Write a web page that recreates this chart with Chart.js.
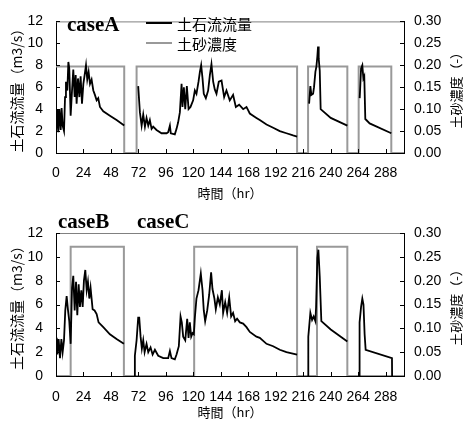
<!DOCTYPE html>
<html>
<head>
<meta charset="utf-8">
<script src="https://cdn.jsdelivr.net/npm/chart.js@4.4.0/dist/chart.umd.min.js"></script>
<style>
  body { margin: 0; background: #fff; width: 463px; height: 425px; overflow: hidden; }
  canvas { display: block; }
</style>
</head>
<body>
<canvas id="chartA" width="463" height="205"></canvas>
<canvas id="chartBC" width="463" height="220"></canvas>
<script>
// 軸目盛
const hourTicks = [0, 24, 48, 72, 96, 120, 144, 168, 192, 216, 240, 264, 288];
const flowTicks = [0, 2, 4, 6, 8, 10, 12];
const concTicks = [0, 0.05, 0.1, 0.15, 0.2, 0.25, 0.3];

// caseA 土石流流量 (null = 途切れ)
const timeA = [0, 0.6, 1.2, 2.0, 2.9, 4.1, 4.9, 5.8, 7.0, 7.9, 8.7, 9.9, 10.8, 11.6, 12.8, 14.0, 15.1, 16.3, 17.2, 18.0,
  19.2, 20.4, 21.5, 22.7, 23.9, 25.0, 26.2, 27.3, 28.5, 29.7, 31.1, 32.6, 34.0, 35.5, 36.9, 38.4, 41.3, 47.1, 52.9, 59.6,
  65,
  71.8, 73.3, 74.8, 76.2, 77.7, 79.1, 80.6, 82.0, 83.5, 84.9, 87.8, 92.2, 96.6, 98.0, 99.5, 100.3, 103.8, 105.3, 106.7, 108.2,
  109.7, 110.5, 111.7, 112.9, 114.3, 115.8, 117.5, 119.8, 121.3, 122.7, 124.5, 125.7, 126.8, 128.0, 129.1, 130.9, 132.9, 134.4, 135.8, 137.3,
  138.7, 140.2, 142.2, 144.6, 146.9, 148.9, 151.8, 154.7, 157.1, 160.0, 163.5, 166.4, 169.3, 175.1, 178.0, 183.9, 189.7, 195.5, 201.3, 207.1, 210.6,
  215,
  221.1, 222.2, 223.1, 224.6, 225.4, 226.6, 227.5, 228.3, 228.9, 229.5, 230.4, 231.2, 240.0, 254.5,
  260,
  265.3, 266.5, 267.6, 268.5, 269.3, 270.2, 274.0, 292.9];
const flowA = [1.8, 1.8, 4.0, 1.9, 4.0, 2.1, 4.1, 2.5, 2.0, 5.1, 6.5, 5.7, 8.3, 7.7, 3.4, 5.7, 7.6, 5.1, 7.1, 4.5,
  6.8, 5.1, 7.0, 4.5, 6.3, 7.1, 8.0, 6.7, 7.4, 6.3, 6.7, 5.7, 5.3, 4.8, 5.0, 4.2, 3.8, 3.4, 3.0, 2.5,
  null,
  6.1, 3.7, 2.5, 3.5, 2.4, 3.2, 2.5, 3.0, 2.2, 2.4, 2.1, 1.8, 1.8, 1.9, 2.5, 1.8, 1.7, 2.2, 2.8, 3.7,
  6.3, 4.2, 6.0, 4.0, 6.1, 4.0, 4.2, 4.8, 5.7, 5.4, 6.5, 7.4, 8.0, 6.8, 5.4, 5.0, 5.7, 7.1, 8.1, 6.5,
  5.8, 5.4, 6.5, 6.6, 5.1, 5.7, 4.8, 5.3, 4.2, 4.4, 4.0, 4.2, 3.6, 3.2, 3.0, 2.6, 2.3, 2.0, 1.8, 1.6, 1.5,
  null,
  4.5, 6.1, 5.3, 5.4, 6.0, 7.4, 7.9, 8.8, 9.7, 8.6, 7.5, 4.0, 3.2, 2.5,
  null,
  5.0, 7.7, 8.0, 6.8, 7.0, 3.1, 2.7, 1.8];

// caseA 土砂濃度 (階段状)
const concTimeA = [0, 59.6, 70.4, 210.6, 220.2, 254.5, 264.4, 292.9, 304];
const concA = [0.197, 0, 0.197, 0, 0.197, 0, 0.197, 0, 0];

// caseB / caseC 土石流流量
const timeBC = [0, 0.6, 1.2, 2.3, 3.5, 4.7, 5.8, 7.0, 8.1, 9.3, 10.5, 11.6, 12.8, 14.0, 15.1, 16.3, 17.5, 18.6, 19.8, 20.9,
  22.1, 23.3, 24.4, 25.6, 26.8, 27.9, 29.1, 30.2, 32.0, 33.7, 35.5, 37.2, 41.3, 47.1, 52.9, 59.3,
  64,
  68.4, 68.9, 70.4, 71.8, 72.7, 73.9, 75.0, 76.2, 77.4, 79.1, 80.6, 82.6, 84.4, 86.4, 89.3, 93.7, 98.0, 99.5, 100.9, 103.8,
  105.3, 107.3, 108.8, 109.9, 111.1, 112.9, 114.6, 115.8, 116.9, 118.1, 119.3, 120.4, 121.3, 122.7, 124.5, 126.5, 128.0, 129.1, 130.3, 132.1,
  133.8, 135.5, 136.7, 138.4, 139.6, 141.4, 143.1, 144.9, 146.0, 147.8, 149.5, 151.3, 153.0, 154.7, 156.5, 158.2, 160.6, 163.5, 166.4, 169.3,
  175.1, 178.0, 183.9, 189.7, 195.5, 201.3, 210.6,
  215,
  220.2, 220.4, 222.2, 223.7, 225.1, 226.6, 227.2, 228.3, 229.2, 230.4, 231.8, 240.0, 254.5,
  260,
  264.7, 265.2, 266.5, 267.6, 268.6, 269.6, 270.5, 293.5, 293.6];
const flowBC = [2.1, 3.2, 1.8, 3.1, 1.5, 3.1, 2.0, 3.0, 5.5, 6.7, 5.5, 4.6, 2.7, 7.4, 8.4, 5.5, 7.9, 5.1, 7.7, 5.8,
  7.2, 5.8, 8.0, 8.9, 7.2, 7.9, 6.5, 7.4, 5.6, 5.5, 5.2, 4.5, 4.1, 3.5, 3.1, 2.7,
  null,
  0, 1.7, 3.0, 4.9, 4.9, 3.3, 2.3, 3.0, 2.0, 2.7, 2.0, 2.4, 1.8, 2.2, 1.7, 1.5, 1.5, 2.1, 1.5, 1.4,
  1.8, 2.5, 5.0, 4.5, 3.3, 3.0, 4.8, 3.2, 4.5, 3.3, 3.6, 3.5, 4.9, 6.5, 7.2, 8.6, 7.2, 5.5, 4.6, 5.5,
  6.8, 8.7, 7.3, 6.5, 5.6, 6.6, 6.0, 7.2, 5.3, 6.2, 5.3, 6.6, 5.0, 5.3, 4.6, 4.8, 4.5, 4.4, 4.1, 3.7,
  3.3, 3.2, 2.7, 2.5, 2.2, 2.0, 1.8,
  null,
  0, 3.3, 5.3, 4.7, 5.0, 4.6, 5.8, 9.9, 10.6, 8.3, 4.6, 3.9, 2.9,
  null,
  0, 4.5, 5.8, 6.5, 6.0, 3.5, 2.2, 1.5, 0];

// caseB / caseC 土砂濃度
const concTimeBC = [0, 12.8, 59.3, 120.7, 210.6, 228.0, 254.5, 304];
const concBC = [0, 0.271, 0, 0.271, 0, 0.271, 0, 0];

const NUM_FONT = "'Liberation Sans', 'Noto Sans CJK JP', sans-serif";
const JP_FONT = "'Noto Sans CJK JP', sans-serif";

Chart.defaults.font.family = NUM_FONT;
Chart.defaults.font.size = 14;
Chart.defaults.color = "#000";

// 内向きの目盛、上枠、右軸タイトル、case ラベル、凡例
const decorations = {
  id: "decorations",
  afterDatasetsDraw(chart, args, opts) {
    const { ctx, chartArea: area, scales } = chart;
    ctx.save();
    ctx.lineWidth = 1;
    ctx.strokeStyle = "#808080";
    ctx.beginPath();
    ctx.moveTo(area.left, area.top + 0.5);
    ctx.lineTo(area.right, area.top + 0.5);
    ctx.stroke();

    ctx.strokeStyle = "#000";
    ctx.beginPath();
    scales.x.ticks.forEach((t) => {
      const px = Math.round(scales.x.getPixelForValue(t.value)) + 0.5;
      ctx.moveTo(px, area.bottom);
      ctx.lineTo(px, area.bottom - 4);
    });
    scales.y.ticks.forEach((t) => {
      const py = Math.round(scales.y.getPixelForValue(t.value)) + 0.5;
      ctx.moveTo(area.left, py);
      ctx.lineTo(area.left + 4, py);
    });
    scales.y1.ticks.forEach((t) => {
      const py = Math.round(scales.y1.getPixelForValue(t.value)) + 0.5;
      ctx.moveTo(area.right, py);
      ctx.lineTo(area.right - 4, py);
    });
    ctx.stroke();

    // 右軸タイトル (下から上へ)
    ctx.save();
    ctx.fillStyle = "#000";
    ctx.font = "13px " + JP_FONT;
    ctx.textAlign = "center";
    ctx.textBaseline = "middle";
    ctx.translate(scales.y1.right - 7, (area.top + area.bottom) / 2);
    ctx.rotate(-Math.PI / 2);
    ctx.fillText("土砂濃度（-）", 0, 0);
    ctx.restore();

    ctx.fillStyle = "#000";
    ctx.textAlign = "left";
    ctx.textBaseline = "alphabetic";
    ctx.font = "bold 21px 'Liberation Serif', serif";
    (opts.cases || []).forEach((c) => ctx.fillText(c.text, c.x, c.y));

    if (opts.legend) {
      const lg = opts.legend;
      ctx.font = "15px " + JP_FONT;
      ctx.textBaseline = "middle";
      chart.data.datasets.forEach((ds, i) => {
        const y = lg.y + i * lg.gap;
        ctx.strokeStyle = ds.borderColor;
        ctx.lineWidth = 2;
        ctx.beginPath();
        ctx.moveTo(lg.x, y);
        ctx.lineTo(lg.x + 26, y);
        ctx.stroke();
        ctx.fillText(ds.label, lg.x + 31, y + 1);
      });
    }
    ctx.restore();
  },
};

function toPoints(xs, ys) {
  return xs.map((x, i) => ({ x: x, y: ys[i] }));
}

function makeChart(id, flowT, flowV, concT, concV, cfg) {
  const ctx = document.getElementById(id).getContext("2d");
  return new Chart(ctx, {
    type: "line",
    data: {
      datasets: [
        {
          label: "土石流流量",
          data: toPoints(flowT, flowV),
          yAxisID: "y",
          borderColor: "#000",
          borderWidth: 1.8,
          pointRadius: 0,
          spanGaps: false,
          tension: 0,
        },
        {
          label: "土砂濃度",
          data: toPoints(concT, concV),
          yAxisID: "y1",
          borderColor: "#999",
          borderWidth: 2,
          pointRadius: 0,
          stepped: true,
        },
      ],
    },
    options: {
      responsive: false,
      animation: false,
      events: [],
      layout: { padding: { top: cfg.top, left: 0, right: 0, bottom: 0 } },
      plugins: {
        legend: { display: false },
        tooltip: { enabled: false },
        decorations: { cases: cfg.cases, legend: cfg.legend },
      },
      scales: {
        x: {
          type: "linear",
          min: 0,
          max: 304,
          afterBuildTicks: (s) => {
            s.ticks = hourTicks.map((v) => ({ value: v }));
          },
          ticks: { padding: cfg.xPad, maxRotation: 0, autoSkip: false },
          grid: { drawOnChartArea: false, drawTicks: false },
          border: { color: "#000", width: 1 },
          title: {
            display: true,
            text: "時間（hr）",
            font: { family: JP_FONT, size: 13 },
            padding: { top: 0, bottom: cfg.titlePad },
          },
          afterFit: (s) => {
            s.height = cfg.xHeight;
          },
        },
        y: {
          position: "left",
          min: 0,
          max: 12,
          afterBuildTicks: (s) => {
            s.ticks = flowTicks.map((v) => ({ value: v }));
          },
          ticks: { padding: 13 },
          grid: { drawOnChartArea: false, drawTicks: false },
          border: { color: "#000", width: 1 },
          title: {
            display: true,
            text: "土石流流量（m3/s）",
            font: { family: JP_FONT, size: 14 },
            padding: { top: 8, bottom: 0 },
          },
          afterFit: (s) => {
            s.width = 56;
          },
        },
        y1: {
          position: "right",
          min: 0,
          max: 0.3,
          afterBuildTicks: (s) => {
            s.ticks = concTicks.map((v) => ({ value: v }));
          },
          ticks: { padding: 10, callback: (v) => Number(v).toFixed(2) },
          grid: { drawOnChartArea: false, drawTicks: false },
          border: { color: "#000", width: 1 },
          afterFit: (s) => {
            s.width = 59;
          },
        },
      },
    },
    plugins: [decorations],
  });
}

makeChart("chartA", timeA, flowA, concTimeA, concA, {
  top: 13,
  xHeight: 52,
  xPad: 12,
  titlePad: 4,
  cases: [{ text: "caseA", x: 67, y: 31 }],
  legend: { x: 146, y: 23, gap: 20 },
});

makeChart("chartBC", timeBC, flowBC, concTimeBC, concBC, {
  top: 28,
  xHeight: 49,
  xPad: 13,
  titlePad: 5,
  cases: [
    { text: "caseB", x: 58, y: 23 },
    { text: "caseC", x: 137, y: 23 },
  ],
  legend: null,
});
</script>
</body>
</html>
